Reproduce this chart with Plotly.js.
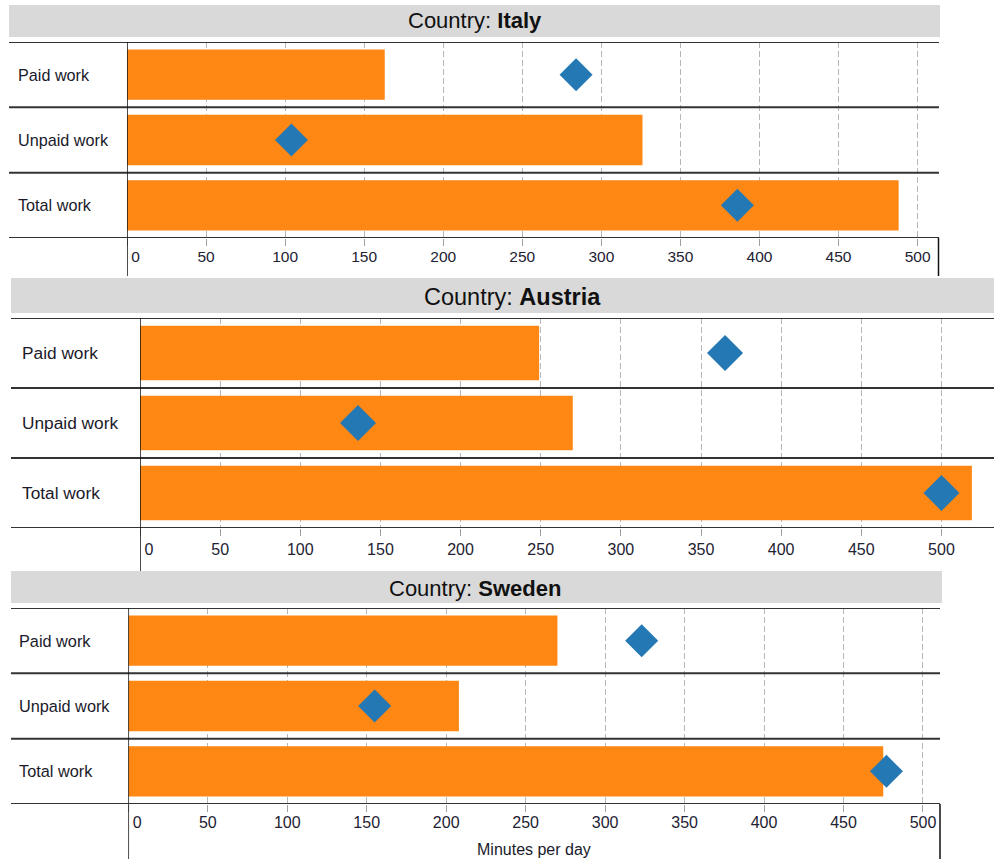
<!DOCTYPE html>
<html>
<head>
<meta charset="utf-8">
<script src="https://cdn.plot.ly/plotly-3.0.1.min.js"></script>
<style>
  html, body { margin: 0; padding: 0; background: #ffffff; }
  #chart { width: 994px; height: 859px; }
</style>
</head>
<body>
<div id="chart"></div>
<script>
// ---------------- data ----------------
const categories = ['Paid work', 'Unpaid work', 'Total work'];
const countries = ['Italy', 'Austria', 'Sweden'];

const italyBars = [163, 326, 488];
const italyMarkers = [284, 104, 386];

const austriaBars = [249, 270, 519];
const austriaMarkers = [365, 136, 500];

const swedenBars = [270, 208, 475];
const swedenMarkers = [323, 155, 477];

const tickValues = [0, 50, 100, 150, 200, 250, 300, 350, 400, 450, 500];
const tickLabels = ['0', '50', '100', '150', '200', '250', '300', '350', '400', '450', '500'];
const xTitle = 'Minutes per day';
const headerPrefix = 'Country: ';

const barSeries = [italyBars, austriaBars, swedenBars];
const markerSeries = [italyMarkers, austriaMarkers, swedenMarkers];

// ---------------- layout geometry (pixels) ----------------
const W = 994, H = 859;
const px = x => x / W;
const py = y => 1 - y / H;

const panels = [
  { hdr: [9, 5, 940, 37], hdrX: 474.5, hdrY: 21, hdrFs: 22,
    plotX: [127, 938.5], plotY: [42, 238], xmax: 513.2,
    labelX: 16, catFs: 16.2, tickFs: 15.5, tickShift: -3, lineL: 9, lineR: 939,
    axisBottom: 276, rightBox: true, bw: 0.77, msize: 25.4 },
  { hdr: [11, 278, 994, 313], hdrX: 512, hdrY: 297, hdrFs: 23.5,
    plotX: [140, 994], plotY: [318, 528], xmax: 532.8,
    labelX: 20, catFs: 17.3, tickFs: 16, tickShift: 0, lineL: 11, lineR: 994,
    axisBottom: 571, rightBox: false, bw: 0.78, msize: 27.7 },
  { hdr: [11, 571, 942, 603], hdrX: 475, hdrY: 588, hdrFs: 22,
    plotX: [128.3, 940], plotY: [608, 804], xmax: 510.7,
    labelX: 17, catFs: 16.3, tickFs: 16, tickShift: -3, lineL: 11, lineR: 940,
    axisBottom: 859, rightBox: true, bw: 0.77, msize: 25.4 }
];

const ORANGE = '#ff8714';
const BLUE = '#2479b5';
const FONT = 'Liberation Sans, Arial, sans-serif';

const traces = [];
const shapes = [];
const annotations = [];
const layout = {
  width: W, height: H,
  margin: { l: 0, r: 0, t: 0, b: 0, pad: 0 },
  paper_bgcolor: '#ffffff', plot_bgcolor: '#ffffff',
  showlegend: false,
  font: { family: FONT, color: '#222222' }
};

panels.forEach((p, i) => {
  const n = i === 0 ? '' : String(i + 1);
  const xa = 'x' + n, ya = 'y' + n;

  traces.push({
    type: 'bar', orientation: 'h',
    x: barSeries[i], y: categories,
    xaxis: xa, yaxis: ya,
    width: p.bw,
    marker: { color: ORANGE, line: { width: 0 } },
    hoverinfo: 'skip'
  });
  traces.push({
    type: 'scatter', mode: 'markers',
    x: markerSeries[i], y: categories,
    xaxis: xa, yaxis: ya,
    marker: { symbol: 'diamond', size: p.msize, color: BLUE, line: { width: 0 } },
    cliponaxis: false,
    hoverinfo: 'skip'
  });

  const nbsp = '\u00a0\u00a0\u00a0\u00a0';
  layout['xaxis' + n] = {
    domain: [px(p.plotX[0]), px(p.plotX[1])],
    anchor: ya,
    range: [0, p.xmax],
    tickmode: 'array',
    tickvals: tickValues,
    ticktext: tickLabels.map((t, k) => k === 0 ? nbsp + t : t),
    ticks: 'outside', ticklen: 7, tickwidth: 1, tickcolor: '#a0a0a0',
    ticklabelstandoff: p.tickShift,
    tickfont: { family: FONT, size: p.tickFs, color: '#222233' },
    showgrid: true, gridcolor: '#b8b8b8', gridwidth: 1, griddash: '6px,3px',
    zeroline: false, showline: false, fixedrange: true
  };
  layout['yaxis' + n] = {
    domain: [py(p.plotY[1]), py(p.plotY[0])],
    anchor: xa,
    type: 'category',
    categoryorder: 'array', categoryarray: categories,
    range: [categories.length - 0.5, -0.5],
    showticklabels: false, ticks: '',
    showgrid: false, zeroline: false, showline: false, fixedrange: true
  };

  // header band
  shapes.push({
    type: 'rect', xref: 'paper', yref: 'paper',
    x0: px(p.hdr[0]), x1: px(p.hdr[2]), y0: py(p.hdr[3]), y1: py(p.hdr[1]),
    fillcolor: '#d9d9d9', line: { width: 0 }, layer: 'below'
  });
  annotations.push({
    xref: 'paper', yref: 'paper', x: px(p.hdrX), y: py(p.hdrY),
    xanchor: 'center', yanchor: 'middle', showarrow: false,
    text: headerPrefix + '<b>' + countries[i] + '</b>',
    font: { family: FONT, size: p.hdrFs, color: '#111111' }
  });

  // row separators
  for (let k = 0; k <= categories.length; k++) {
    shapes.push({
      type: 'line', xref: 'paper', yref: ya,
      x0: px(p.lineL), x1: px(p.lineR), y0: k - 0.5, y1: k - 0.5,
      line: { color: '#333333', width: 2 }, layer: 'above'
    });
  }
  // category labels
  categories.forEach(c => {
    annotations.push({
      xref: 'paper', yref: ya, x: px(p.labelX), y: c,
      xanchor: 'left', yanchor: 'middle', showarrow: false,
      text: c, font: { family: FONT, size: p.catFs, color: '#1a1a2a' }
    });
  });
  // vertical axis line at zero
  shapes.push({
    type: 'line', xref: xa, yref: 'paper',
    x0: 0, x1: 0, y0: py(p.axisBottom), y1: py(p.plotY[0]),
    line: { color: '#111111', width: 1.5 }, layer: 'above'
  });
  if (p.rightBox) {
    shapes.push({
      type: 'line', xref: 'paper', yref: 'paper',
      x0: px(p.plotX[1]), x1: px(p.plotX[1]), y0: py(p.axisBottom), y1: py(p.plotY[1]),
      line: { color: '#111111', width: 1.5 }, layer: 'above'
    });
  }
});

annotations.push({
  xref: 'x3 domain', yref: 'paper', x: 0.5, y: py(849),
  xanchor: 'center', yanchor: 'middle', showarrow: false,
  text: xTitle, font: { family: FONT, size: 16, color: '#1a1a2a' }
});

layout.shapes = shapes;
layout.annotations = annotations;

Plotly.newPlot('chart', traces, layout, { staticPlot: true, displayModeBar: false });
</script>
</body>
</html>
